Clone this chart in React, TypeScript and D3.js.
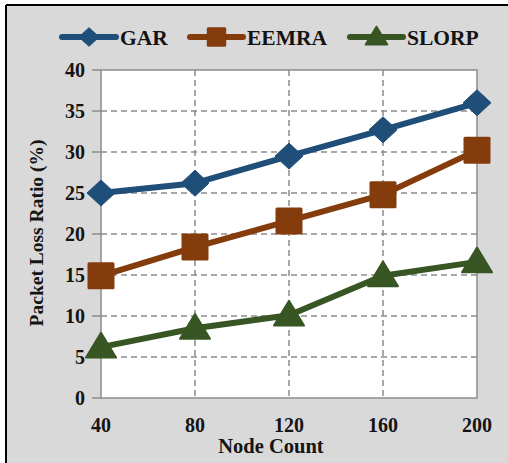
import React from "react";
import * as d3 from "d3";

const nodeCounts = [40, 80, 120, 160, 200];
const garValues = [25.0, 26.2, 29.5, 32.7, 36.0];
const eemraValues = [14.9, 18.4, 21.6, 24.8, 30.2];
const slorpValues = [6.2, 8.5, 10.1, 14.9, 16.6];
const yTicks = [0, 5, 10, 15, 20, 25, 30, 35, 40];
const seriesNames = ["GAR", "EEMRA", "SLORP"];
const seriesColors = ["#1f4e79", "#843c0c", "#375623"];
const seriesShapes = ["diamond", "square", "triangle"];

const W = 508;
const H = 463;
const plot = { left: 101, right: 477, top: 70, bottom: 398 };
const FONT = "Liberation Serif, Times New Roman, serif";

function Marker({ shape, x, y, color, s = 1 }: { shape: string; x: number; y: number; color: string; s?: number }) {
  if (shape === "diamond") {
    const hw = 14 * s, hh = 13 * s;
    return <path d={`M${x - hw},${y}L${x},${y - hh}L${x + hw},${y}L${x},${y + hh}Z`} fill={color} stroke={color} strokeWidth={1} strokeLinejoin="round" />;
  }
  if (shape === "square") {
    const h = 13.5 * s;
    return <rect x={x - h} y={y - h} width={2 * h} height={2 * h} rx={1.5} fill={color} />;
  }
  const hw = 15 * s, hh = 13 * s;
  return <path d={`M${x - hw},${y + hh * 0.8}L${x},${y - hh * 1.1}L${x + hw},${y + hh * 0.8}Z`} fill={color} stroke={color} strokeWidth={2} strokeLinejoin="round" />;
}

export default function App() {
  const x = d3.scaleLinear().domain([40, 200]).range([plot.left, plot.right]);
  const y = d3.scaleLinear().domain([0, 40]).range([plot.bottom, plot.top]);
  const series = [garValues, eemraValues, slorpValues];
  const line = d3.line<number>().x((_, i) => x(nodeCounts[i])).y((d) => y(d));
  const textColor = "#141414";
  const ts = { fontFamily: FONT, fontWeight: 700 } as React.CSSProperties;

  const legendPos = [
    { x0: 62, x1: 116, tx: 120 },
    { x0: 190, x1: 243, tx: 247 },
    { x0: 350, x1: 403, tx: 407 },
  ];

  return (
    <svg width={W} height={H} style={{ position: "absolute", left: 0, top: 0, fontFamily: FONT }}>
      <rect x={0} y={0} width={W} height={H} fill="#ffffff" />
      <rect x={6} y={6} width={W - 6} height={H - 6} fill="#d9d9d9" />
      <line x1={6} y1={5} x2={W} y2={5} stroke="#000" strokeWidth={2} />
      <line x1={6} y1={5} x2={6} y2={H} stroke="#000" strokeWidth={2} />

      <rect x={plot.left} y={plot.top} width={plot.right - plot.left} height={plot.bottom - plot.top} fill="#ffffff" />

      {yTicks.filter((t) => t > 0 && t < 40).map((t) => (
        <line key={"gy" + t} x1={plot.left} x2={plot.right} y1={y(t)} y2={y(t)} stroke="#8c8c8c" strokeWidth={1.5} strokeDasharray="6,4" />
      ))}
      {nodeCounts.filter((v) => v > 40 && v < 200).map((v) => (
        <line key={"gx" + v} x1={x(v)} x2={x(v)} y1={plot.top} y2={plot.bottom} stroke="#8c8c8c" strokeWidth={1.5} strokeDasharray="6,4" />
      ))}

      <rect x={plot.left} y={plot.top} width={plot.right - plot.left} height={plot.bottom - plot.top} fill="none" stroke="#8c8c8c" strokeWidth={1.5} />

      {yTicks.map((t) => (
        <g key={"ty" + t}>
          <line x1={plot.left - 9} x2={plot.left} y1={y(t)} y2={y(t)} stroke="#8c8c8c" strokeWidth={1.5} />
          <text x={85} y={y(t) + 7} textAnchor="end" fontSize={20} style={ts} fill={textColor}>{t}</text>
        </g>
      ))}
      {nodeCounts.map((v) => (
        <text key={"tx" + v} x={x(v)} y={432} textAnchor="middle" fontSize={20} style={ts} fill={textColor}>{v}</text>
      ))}

      <text x={271} y={453} textAnchor="middle" fontSize={20.5} style={ts} fill={textColor}>Node Count</text>
      <text transform="translate(43,233) rotate(-90)" textAnchor="middle" fontSize={19.5} style={ts} fill={textColor}>Packet Loss Ratio (%)</text>

      {series.map((vals, si) => (
        <g key={"s" + si}>
          <path d={line(vals) || ""} fill="none" stroke={seriesColors[si]} strokeWidth={6} strokeLinejoin="round" />
          {vals.map((v, i) => (
            <Marker key={i} shape={seriesShapes[si]} x={x(nodeCounts[i])} y={y(v)} color={seriesColors[si]} />
          ))}
        </g>
      ))}

      {seriesNames.map((name, si) => {
        const p = legendPos[si];
        return (
          <g key={"lg" + si}>
            <line x1={p.x0} x2={p.x1} y1={37} y2={37} stroke={seriesColors[si]} strokeWidth={6} strokeLinecap="round" />
            <Marker shape={seriesShapes[si]} x={(p.x0 + p.x1) / 2} y={37} color={seriesColors[si]} s={0.72} />
            <text x={p.tx} y={44.5} fontSize={21.5} style={ts} fill={textColor}>{name}</text>
          </g>
        );
      })}
    </svg>
  );
}
